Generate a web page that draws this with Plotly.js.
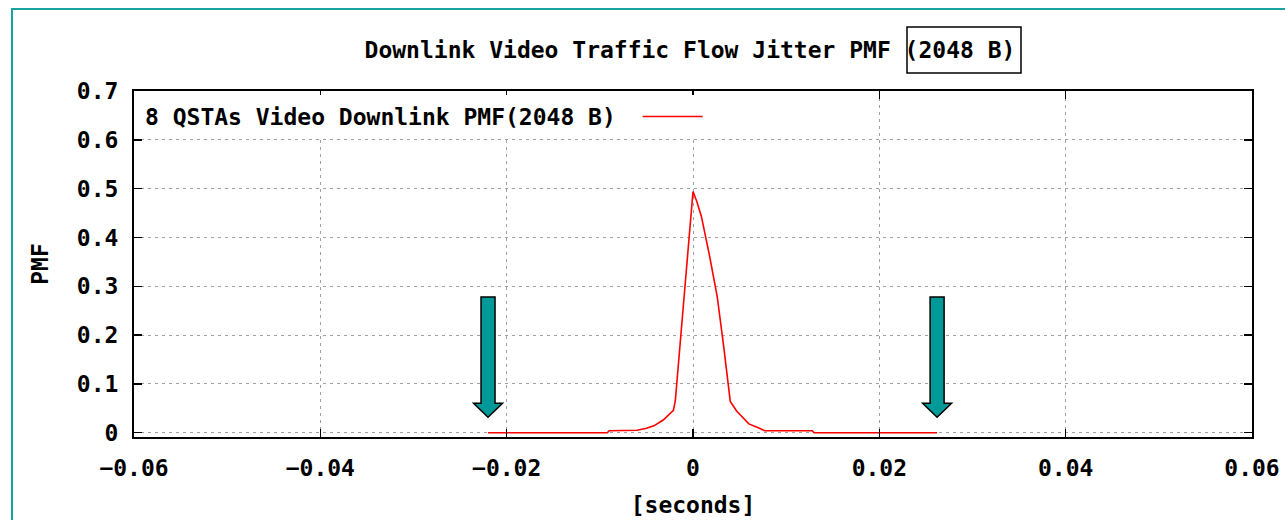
<!DOCTYPE html>
<html>
<head>
<meta charset="utf-8">
<script src="https://cdn.plot.ly/plotly-3.0.1.min.js"></script>
<style>
  html, body { margin: 0; padding: 0; background: #ffffff; }
  #chart { width: 1285px; height: 520px; }
</style>
</head>
<body>
<div id="chart"></div>
<script>
// ---- data ----
const jitter = [
  -0.0220, -0.0092, -0.0090, -0.0060, -0.0050, -0.0042, -0.0032, -0.0021,
  -0.0019, 0.0000, 0.0004, 0.0009, 0.0018, 0.0026, 0.0033, 0.0040,
  0.0047, 0.0054, 0.0060, 0.0070, 0.0077, 0.0128, 0.0130, 0.0262
];
const pmf = [
  0.000, 0.000, 0.004, 0.005, 0.009, 0.014, 0.026, 0.046,
  0.065, 0.494, 0.474, 0.443, 0.360, 0.279, 0.176, 0.064,
  0.044, 0.030, 0.018, 0.010, 0.004, 0.004, 0.000, 0.000
];
const xTickVals = [-0.06, -0.04, -0.02, 0, 0.02, 0.04, 0.06];
const xTickText = ["\u22120.06", "\u22120.04", "\u22120.02", "0", "0.02", "0.04", "0.06"];
const yTickVals = [0, 0.1, 0.2, 0.3, 0.4, 0.5, 0.6, 0.7];
const yTickText = ["0", "0.1", "0.2", "0.3", "0.4", "0.5", "0.6", "0.7"];
const seriesName = "8 QSTAs Video Downlink PMF(2048 B)";
const chartTitle = "Downlink Video Traffic Flow Jitter PMF (2048 B)";
const xTitle = "[seconds]";
const yTitle = "PMF";

// ---- styling ----
const W = 1285, H = 520;
const M = { l: 134, r: 33, t: 91, b: 83 };
const pw = W - M.l - M.r, ph = H - M.t - M.b;
const FONT = { family: "DejaVu Sans Mono, Liberation Mono, monospace", size: 23, color: "#000000", weight: "bold" };
const px2paperX = p => (p - M.l) / pw;
const px2paperY = p => (H - M.b - p) / ph;
const xRange = [-0.06, 0.06];
const yRange = [-0.0088, 0.7];
const xPerPx = (xRange[1] - xRange[0]) / pw;

function arrowPath(cx) {
  const hw = 7 * xPerPx, hh = 14.5 * xPerPx;
  const yTop = 0.278, yBase = 0.0604, yTip = 0.0316;
  return `M ${cx - hw},${yTop} L ${cx + hw},${yTop} L ${cx + hw},${yBase} L ${cx + hh},${yBase} ` +
         `L ${cx},${yTip} L ${cx - hh},${yBase} L ${cx - hw},${yBase} Z`;
}

const trace = {
  x: jitter, y: pmf, type: "scatter", mode: "lines",
  name: " ", line: { color: "#ff0000", width: 1.6 },
  hoverinfo: "x+y"
};

const axisCommon = {
  ticks: "inside", ticklen: 8, tickwidth: 1.5, tickcolor: "#000000",
  showline: true, linecolor: "#000000", linewidth: 2, mirror: "ticks",
  showgrid: true, gridcolor: "#a0a0a0", gridwidth: 1, griddash: "3px,4px",
  zeroline: false, tickfont: FONT, fixedrange: true
};

const layout = {
  width: W, height: H, margin: M,
  paper_bgcolor: "#ffffff", plot_bgcolor: "#ffffff",
  font: FONT,
  title: {
    text: chartTitle, font: FONT,
    xref: "container", yref: "container",
    x: 690 / W, xanchor: "center", y: 1 - 50 / H, yanchor: "middle"
  },
  xaxis: Object.assign({}, axisCommon, {
    range: xRange, tickmode: "array", tickvals: xTickVals, ticktext: xTickText,
    ticklabelstandoff: 9,
    title: { text: xTitle, font: FONT, standoff: 17 }
  }),
  yaxis: Object.assign({}, axisCommon, {
    range: yRange, tickmode: "array", tickvals: yTickVals, ticktext: yTickText,
    ticklabelstandoff: 9,
    title: { text: yTitle, font: FONT, standoff: 22 }
  }),
  showlegend: true,
  legend: {
    x: px2paperX(143), y: px2paperY(95), xanchor: "left", yanchor: "top",
    bgcolor: "rgba(255,255,255,1)", borderwidth: 0,
    font: FONT, itemwidth: 60,
    title: { text: seriesName + "\u00a0", side: "left", font: FONT }
  },
  shapes: [
    // teal outer frame (left and top edges visible)
    { type: "rect", xref: "paper", yref: "paper",
      x0: px2paperX(12), x1: px2paperX(1400), y0: px2paperY(700), y1: px2paperY(9),
      line: { color: "#1aa3a3", width: 2 }, fillcolor: "rgba(0,0,0,0)", layer: "below" },
    // box around "(2048 B)" in the title
    { type: "rect", xref: "paper", yref: "paper",
      x0: px2paperX(907), x1: px2paperX(1021), y0: px2paperY(73), y1: px2paperY(27),
      line: { color: "#000000", width: 1.5 }, fillcolor: "rgba(0,0,0,0)" },
    // arrows marking the first and last jitter values
    { type: "path", xref: "x", yref: "y", path: arrowPath(jitter[0]),
      fillcolor: "#009999", line: { color: "#000000", width: 1.5 } },
    { type: "path", xref: "x", yref: "y", path: arrowPath(jitter[jitter.length - 1]),
      fillcolor: "#009999", line: { color: "#000000", width: 1.5 } }
  ]
};

Plotly.newPlot("chart", [trace], layout, { displayModeBar: false, staticPlot: true });
</script>
</body>
</html>
